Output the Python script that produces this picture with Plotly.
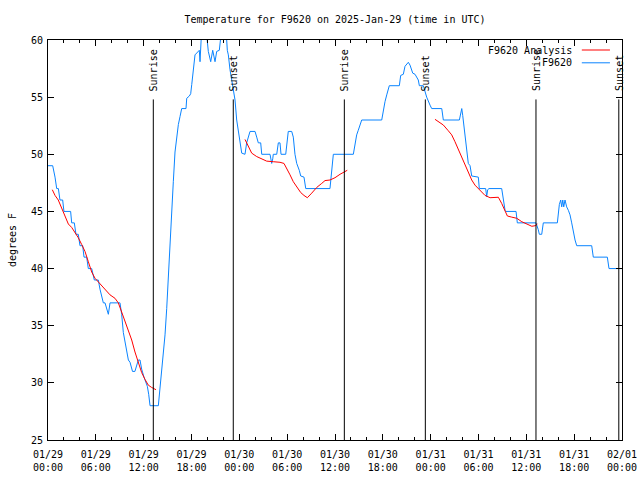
import pandas as pd
import plotly.graph_objects as go

BASE = pd.Timestamp("2025-01-29 00:00")

# (hours since 2025-01-29 00:00 UTC, degrees F)
blue_points = [
    (0.0, 49), (0.59, 49), (0.88, 48), (1.09, 47), (1.3, 47), (1.5, 46), (1.84, 46), (2.0, 45),
    (2.84, 45), (2.97, 44), (3.3, 44), (3.51, 43), (3.8, 43), (4.01, 42), (4.35, 42), (4.52, 41),
    (4.85, 41), (5.06, 40), (5.48, 40), (5.81, 39), (6.31, 39), (6.52, 38.2), (6.94, 37), (7.15, 37),
    (7.57, 36), (7.78, 37), (9.03, 37), (9.24, 36), (9.45, 34.4), (9.66, 33.6), (9.87, 32.9),
    (10.08, 32), (10.29, 31.8), (10.6, 31), (10.9, 31), (11.1, 31.5), (11.33, 32), (11.54, 32),
    (11.75, 31.2), (12.04, 30.5), (12.3, 30), (12.46, 29.7), (12.63, 29), (12.8, 28), (13.84, 28),
    (14.05, 29.5), (14.26, 30.7), (14.46, 32.4), (14.68, 34.2), (14.89, 36.5), (15.09, 39.4),
    (15.3, 42.3), (15.52, 45), (15.72, 47.6), (15.93, 50.2), (16.14, 51.7), (16.35, 52.6),
    (16.56, 53.3), (16.77, 54), (17.31, 54), (17.4, 54.9), (17.73, 55.1), (17.9, 55.3),
    (18.03, 56.1), (18.23, 57.5), (18.44, 58.7), (18.98, 59.1), (19.07, 58.1), (19.28, 61),
    (19.82, 61), (20.11, 59), (20.41, 58.1), (20.66, 59.1), (20.95, 58.1), (21.16, 59),
    (21.49, 59.1), (21.79, 61), (22.33, 61), (22.49, 59.1), (22.62, 58.7), (22.83, 57.4),
    (23.24, 55.6), (23.46, 54.75), (23.67, 53), (23.87, 52.1), (24.08, 51.25), (24.3, 50.1),
    (24.71, 50), (24.92, 51), (25.34, 52), (25.97, 52), (26.18, 51.5), (26.38, 51), (26.68, 51),
    (26.81, 50), (27.85, 50), (28.06, 49.2), (28.19, 49.6), (28.26, 50), (28.69, 50), (28.89, 51),
    (29.1, 51), (29.23, 50), (29.82, 50), (30.02, 51.2), (30.14, 52), (30.57, 52), (30.77, 51.5),
    (30.98, 50), (31.2, 49.2), (31.52, 48.6), (31.7, 48.1), (32.11, 48), (32.33, 47), (35.37, 47),
    (35.59, 48.6), (35.79, 50), (38.3, 50), (38.51, 51), (38.72, 51.7), (38.92, 52.1),
    (39.14, 52.6), (39.35, 53), (41.86, 53), (42.07, 53.9), (42.27, 54.6), (42.49, 55.2),
    (42.81, 56), (44.07, 56), (44.24, 56.9), (44.57, 57), (44.78, 57.7), (45.2, 58.05),
    (45.41, 57.8), (45.75, 57.1), (46.04, 57), (46.45, 56.5), (46.58, 56), (47.08, 56),
    (47.5, 55), (47.92, 54.3), (48.13, 54), (49.39, 54), (49.59, 53), (51.6, 53), (51.77, 53.6),
    (51.9, 54), (52.02, 53.4), (52.18, 52.4), (52.31, 51.5), (52.52, 50.5), (52.72, 49.2),
    (52.94, 49), (53.15, 48.1), (53.98, 48), (54.1, 47), (54.9, 47), (55.03, 46.3), (55.15, 46.9),
    (55.32, 47), (56.91, 47), (57.12, 46), (57.33, 45.1), (57.45, 45), (58.71, 45), (58.87, 44),
    (61.21, 44), (61.5, 43.4), (61.63, 43), (61.93, 43), (62.13, 44), (63.89, 44), (64.14, 45.6),
    (64.31, 46), (64.44, 45.4), (64.57, 46), (64.69, 45.4), (64.85, 46), (65.06, 45.4),
    (65.27, 45.1), (65.48, 44.7), (65.69, 44), (65.89, 43.2), (66.11, 42.5), (66.32, 42),
    (68.2, 42), (68.4, 41), (70.16, 41), (70.37, 40), (72.0, 40),
]

analysis_seg1 = [
    (0.54, 46.9), (0.88, 46.4), (1.29, 46.0), (1.72, 45.3), (2.13, 44.5), (2.55, 43.9),
    (2.97, 43.6), (3.39, 43.2), (3.8, 42.7), (4.23, 42.1), (4.64, 41.5), (5.06, 40.6),
    (5.48, 39.7), (5.9, 39.15), (6.52, 38.7), (7.15, 38.2), (7.78, 37.7), (8.4, 37.4),
    (8.82, 37.0), (9.24, 36.2), (9.66, 35.35), (10.07, 34.6), (10.5, 33.75), (10.91, 32.7),
    (11.33, 31.7), (11.75, 30.9), (12.17, 30.3), (12.58, 29.8), (13.0, 29.6), (13.55, 29.4),
]
analysis_seg2 = [
    (24.71, 51.3), (25.13, 50.7), (25.55, 50.1), (26.18, 49.8), (26.81, 49.6), (27.43, 49.4),
    (28.26, 49.35), (29.1, 49.3), (29.6, 49.2), (29.94, 48.8), (30.36, 48.2), (30.77, 47.6),
    (31.2, 47.2), (31.7, 46.65), (32.11, 46.4), (32.53, 46.2), (33.08, 46.6), (33.71, 47.1),
    (34.33, 47.45), (34.75, 47.7), (35.37, 47.75), (36.0, 47.95), (36.63, 48.25), (37.26, 48.5),
    (37.54, 48.6),
]
analysis_seg3 = [
    (48.54, 53.06), (48.96, 52.85), (49.59, 52.56), (50.21, 52.06), (50.64, 51.7), (51.05, 51.1),
    (51.47, 50.4), (51.9, 49.8), (52.31, 49.06), (52.72, 48.3), (53.15, 47.75), (53.56, 47.3),
    (53.98, 47.0), (54.41, 46.7), (54.82, 46.4), (55.45, 46.2), (56.07, 46.2), (56.49, 46.24),
    (56.91, 45.7), (57.33, 45.0), (57.62, 44.6), (58.17, 44.5), (58.8, 44.4), (59.43, 44.1),
    (60.06, 43.9), (60.69, 43.7), (61.1, 43.75), (61.39, 43.9),
]

sun_events = ["Sunrise", "Sunset", "Sunrise", "Sunset", "Sunrise", "Sunset"]
sun_hours = [13.21, 23.24, 37.17, 47.33, 61.21, 71.6]

FONT = "DejaVu Sans Mono"
BLUE = "#0a84ff"
RED = "#ff0000"


def to_time(h):
    return BASE + pd.to_timedelta(h, unit="h")


fig = go.Figure()

bh, bt = zip(*blue_points)
fig.add_trace(go.Scatter(x=[to_time(h) for h in bh], y=list(bt), mode="lines",
                         name="F9620", line=dict(color=BLUE, width=1)))

for i, seg in enumerate([analysis_seg1, analysis_seg2, analysis_seg3]):
    sh, st = zip(*seg)
    fig.add_trace(go.Scatter(x=[to_time(h) for h in sh], y=list(st), mode="lines",
                             name="F9620 Analysis", legendgroup="an", showlegend=(i == 0),
                             line=dict(color=RED, width=1)))

for name, h in zip(sun_events, sun_hours):
    t = to_time(h)
    fig.add_shape(type="line", xref="x", yref="y", x0=t, x1=t, y0=25, y1=54.8,
                  line=dict(color="black", width=1))
    fig.add_annotation(x=t, y=55.35, xref="x", yref="y", text=name, showarrow=False,
                       textangle=-90, xanchor="center", yanchor="bottom",
                       font=dict(family=FONT, size=10, color="black"))

# legend drawn gnuplot-style (text, then line sample)
leg_rows = [("F9620 Analysis", RED, 0.975), ("F9620", BLUE, 0.943)]
for text, col, yy in leg_rows:
    fig.add_annotation(x=0.916, y=yy, xref="paper", yref="paper", text=text, showarrow=False,
                       xanchor="right", yanchor="middle",
                       font=dict(family=FONT, size=10, color="black"))
    fig.add_shape(type="line", xref="paper", yref="paper", x0=0.93, x1=0.979, y0=yy, y1=yy,
                  line=dict(color=col, width=1))

fig.update_layout(
    width=640, height=480,
    margin=dict(l=48, r=18, t=40, b=40, autoexpand=False),
    paper_bgcolor="white", plot_bgcolor="white",
    showlegend=False,
    font=dict(family=FONT, size=10, color="black"),
    title=dict(text="Temperature for F9620 on 2025-Jan-29 (time in UTC)",
               x=0.5, xref="paper", y=1 - 19 / 480, yref="container",
               xanchor="center", yanchor="middle",
               font=dict(family=FONT, size=10, color="black")),
)

fig.update_xaxes(
    type="date",
    range=[to_time(0), to_time(72)],
    tick0=to_time(0), dtick=6 * 3600 * 1000,
    tickformat="%m/%d<br>%H:%M",
    ticks="inside", ticklen=6, tickcolor="black",
    minor=dict(dtick=2 * 3600 * 1000, ticks="inside", ticklen=3, tickcolor="black"),
    showline=True, linecolor="black", linewidth=1, mirror="ticks",
    showgrid=False, zeroline=False, ticklabelstandoff=5,
    tickfont=dict(family=FONT, size=10, color="black"),
)
fig.update_yaxes(
    range=[25, 60], tick0=25, dtick=5,
    ticks="inside", ticklen=6, tickcolor="black",
    showline=True, linecolor="black", linewidth=1, mirror="ticks",
    showgrid=False, zeroline=False, ticklabelstandoff=2,
    title=dict(text="degrees F", standoff=12, font=dict(family=FONT, size=10, color="black")),
    tickfont=dict(family=FONT, size=10, color="black"),
)

# place the 640x480 figure at the page origin (no default body margin), no mode bar
fig.write_html("out.html",
               config={"displayModeBar": False},
               post_script="document.body.style.margin='0';document.body.style.overflow='hidden';")
